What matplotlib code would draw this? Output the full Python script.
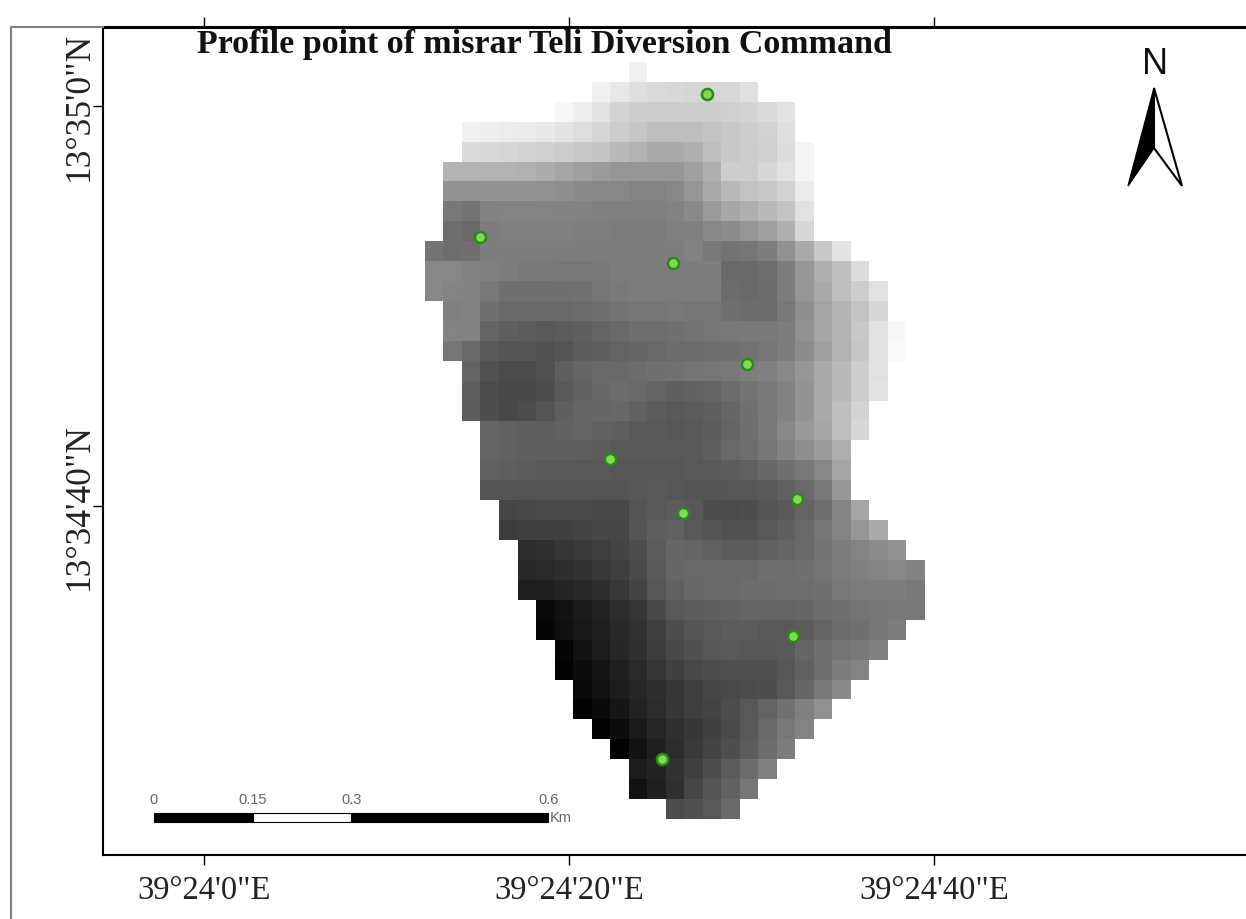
"""
Profile point map: raster (grey) with green points, scale bar and north arrow.
"""

import numpy as np
import matplotlib
matplotlib.use("Agg")
import matplotlib.pyplot as plt
from matplotlib.patches import Polygon, Rectangle

W, H = 1246, 919

# 経度・緯度 (39°24' / 13°34' からの秒)
x_ticks = [0, 20, 40]
x_labels = ["39°24'0\"E", "39°24'20\"E", "39°24'40\"E"]
y_ticks = [40, 60]
y_labels = ["13°34'40\"N", "13°35'0\"N"]

point_lon = [27.56, 15.12, 25.70, 29.75, 22.25, 32.49, 26.25, 32.27, 25.10]
point_lat = [60.60, 53.45, 52.15, 47.10, 42.35, 40.35, 39.65, 33.50, 27.35]

scale_km = [0, 0.15, 0.3, 0.6]
scale_labels = ["0", "0.15", "0.3", "0.6"]

# raster: first filled column of each row, then the grey values of that row
row_start = [11, 9, 7, 2, 2, 1, 1, 1, 1, 0, 0, 0, 1, 1, 1, 2, 2, 2, 3, 3, 3, 3,
             4, 4, 5, 5, 5, 6, 6, 7, 7, 8, 8, 9, 10, 11, 11, 13]
row_values = [
    [240],
    [240, 232, 222, 218, 216, 214, 214, 216, 224],
    [248, 238, 228, 212, 205, 205, 205, 205, 205, 208, 212, 218, 228],
    [240, 238, 236, 235, 232, 228, 222, 214, 205, 198, 190, 190, 190, 196, 200, 205, 210, 222],
    [218, 216, 214, 212, 208, 204, 200, 195, 185, 178, 170, 170, 175, 190, 200, 205, 208, 220, 245],
    [180, 180, 178, 178, 176, 172, 165, 160, 155, 150, 150, 150, 150, 160, 175, 205, 205, 215, 225, 245],
    [145, 145, 148, 148, 146, 144, 142, 138, 135, 135, 132, 132, 135, 150, 170, 185, 195, 200, 210, 235],
    [120, 115, 130, 132, 132, 132, 130, 130, 128, 128, 128, 128, 130, 138, 155, 168, 175, 185, 195, 225],
    [110, 105, 125, 128, 128, 128, 128, 126, 126, 124, 124, 124, 128, 128, 135, 140, 150, 160, 175, 215],
    [115, 110, 112, 125, 125, 125, 125, 125, 125, 125, 125, 125, 125, 125, 130, 120, 115, 118, 125, 145, 170, 200, 228],
    [135, 135, 130, 128, 125, 122, 122, 120, 120, 122, 125, 125, 125, 125, 125, 125, 105, 105, 110, 125, 150, 175, 190, 220],
    [135, 132, 130, 120, 112, 112, 112, 112, 114, 118, 122, 124, 124, 124, 125, 125, 108, 105, 108, 125, 150, 170, 190, 205, 225],
    [128, 130, 112, 105, 105, 105, 105, 108, 112, 115, 118, 118, 120, 118, 118, 112, 108, 108, 120, 142, 165, 180, 195, 215],
    [132, 130, 100, 95, 92, 90, 92, 95, 100, 105, 110, 110, 112, 115, 118, 120, 122, 122, 125, 145, 165, 180, 200, 225, 248],
    [118, 105, 90, 85, 85, 82, 85, 92, 95, 100, 102, 105, 108, 108, 110, 112, 115, 118, 125, 140, 160, 178, 198, 225, 250],
    [100, 82, 76, 76, 82, 95, 100, 105, 105, 108, 112, 114, 116, 118, 120, 125, 128, 135, 150, 170, 185, 205, 225],
    [95, 76, 72, 72, 78, 90, 98, 104, 108, 106, 100, 95, 98, 100, 108, 115, 122, 130, 148, 170, 185, 205, 228],
    [92, 78, 72, 76, 84, 95, 100, 102, 104, 98, 92, 90, 92, 95, 102, 112, 120, 130, 148, 170, 190, 212],
    [100, 98, 95, 95, 98, 100, 98, 95, 90, 88, 86, 88, 92, 100, 112, 122, 135, 152, 168, 190, 215],
    [100, 98, 95, 95, 95, 94, 92, 90, 88, 88, 88, 90, 95, 105, 110, 118, 130, 142, 155, 175],
    [96, 94, 92, 90, 90, 88, 88, 86, 86, 86, 86, 88, 90, 92, 96, 104, 112, 120, 135, 165],
    [84, 84, 84, 84, 84, 84, 84, 84, 86, 88, 86, 84, 84, 86, 86, 88, 96, 105, 120, 150],
    [70, 72, 74, 74, 74, 72, 72, 84, 90, 92, 88, 78, 76, 78, 84, 90, 100, 110, 132, 165],
    [60, 62, 64, 66, 68, 70, 70, 84, 94, 96, 90, 85, 82, 82, 88, 95, 105, 118, 132, 150, 170],
    [44, 48, 54, 58, 62, 68, 78, 92, 102, 100, 96, 92, 92, 96, 100, 106, 115, 124, 132, 140, 148],
    [40, 42, 46, 50, 56, 62, 74, 90, 102, 105, 105, 106, 106, 110, 110, 112, 116, 124, 128, 132, 135, 130],
    [30, 32, 36, 40, 46, 56, 68, 86, 98, 104, 105, 105, 108, 108, 110, 110, 112, 120, 124, 125, 125, 122],
    [8, 18, 26, 34, 44, 54, 72, 88, 92, 95, 98, 100, 100, 100, 102, 108, 112, 116, 118, 120, 120],
    [5, 15, 24, 32, 40, 50, 62, 78, 85, 88, 92, 92, 90, 90, 92, 100, 108, 112, 118, 125],
    [5, 18, 28, 38, 48, 60, 72, 80, 86, 88, 86, 86, 90, 102, 112, 116, 120, 128],
    [2, 12, 22, 32, 42, 54, 64, 72, 78, 80, 80, 80, 86, 98, 112, 124, 132],
    [8, 18, 28, 38, 46, 54, 62, 70, 74, 76, 78, 88, 102, 122, 138],
    [2, 10, 22, 34, 44, 54, 62, 68, 76, 88, 100, 114, 128, 145],
    [2, 12, 26, 38, 48, 55, 64, 74, 88, 105, 120, 132],
    [2, 18, 32, 44, 58, 68, 78, 92, 108, 125],
    [28, 35, 50, 65, 78, 92, 108, 128],
    [18, 32, 48, 70, 85, 98, 118],
    [75, 80, 88, 105],
]

# ピクセル -> figure 座標
def px(x, y):
    return x / W, 1 - y / H

grid = np.full((len(row_values), 27), np.nan)
for r, (start, vals) in enumerate(zip(row_start, row_values)):
    grid[r, start:start + len(vals)] = vals

fig = plt.figure(figsize=(W / 100, H / 100), dpi=100, facecolor="white")
ax = fig.add_axes([103 / W, 1 - 855 / H, (W - 103) / W, (855 - 27) / H])

cmap = plt.get_cmap("gray").copy()
cmap.set_bad((1, 1, 1, 0))
ax.imshow(grid, cmap=cmap, vmin=0, vmax=255, extent=[12.11, 39.48, 24.34, 62.15],
          aspect="auto", interpolation="nearest", zorder=1)
ax.set_xlim(-5.534, 57.1)
ax.set_ylim(22.55, 63.95)

ax.plot(point_lon, point_lat, "o", ms=8, mfc="#7fdc50", mec="#2a8a1a", mew=1.8, zorder=3)

ax.set_xticks(x_ticks, x_labels, family="Liberation Serif", fontsize=23.5, color="#222222")
ax.set_yticks(y_ticks, y_labels, family="Liberation Serif", fontsize=25.5, color="#222222",
              rotation=90, va="center")
ax.tick_params(axis="x", length=7, width=1, top=True, pad=8)
ax.tick_params(axis="y", length=7, width=1, pad=-2)
ax.spines["top"].set_linewidth(2.2)
ax.spines["left"].set_linewidth(1.5)
ax.spines["bottom"].set_linewidth(1.5)
ax.spines["right"].set_visible(False)

fig.text(*px(197, 45), "Profile point of misrar Teli Diversion Command", family="Liberation Serif",
         fontweight="bold", fontsize=24.5, color="#111111", va="center", ha="left", zorder=5)

# 外枠 (neatline)
fig.add_artist(plt.Line2D([11 / W, 11 / W, 103 / W], [0, 1 - 27 / H, 1 - 27 / H], color="#808080", lw=1.5))

# スケールバー
km_sec = 36.0
bar_x0 = -2.74
bar_y = 22.55 + (855 - 822) / 20
for i, (a, b) in enumerate(zip(scale_km[:-1], scale_km[1:])):
    ax.add_patch(Rectangle((bar_x0 + a * km_sec, bar_y), (b - a) * km_sec, 0.45, fc="white" if i == 1 else "black",
                           ec="black", lw=0.8, zorder=4))
for km, lab in zip(scale_km, scale_labels):
    ax.text(bar_x0 + km * km_sec, bar_y + 0.75, lab, fontsize=10.5, color="#666666", ha="center", va="bottom",
            family="Liberation Sans")
ax.text(bar_x0 + 0.6 * km_sec + 0.1, bar_y + 0.22, "Km", fontsize=10.5, color="#666666", ha="left", va="center",
        family="Liberation Sans")

# 方位記号
fig.text(*px(1155, 65), "N", fontsize=26, family="Liberation Sans", color="#111111", ha="center", va="center")
fig.add_artist(Polygon([px(1154, 88), px(1182, 186), px(1154, 148)], closed=True, fc="white", ec="black", lw=1.5,
                       transform=fig.transFigure))
fig.add_artist(Polygon([px(1154, 88), px(1128, 186), px(1154, 148)], closed=True, fc="black", ec="black", lw=1,
                       transform=fig.transFigure))

fig.savefig("out.png", dpi=100, facecolor="white")
